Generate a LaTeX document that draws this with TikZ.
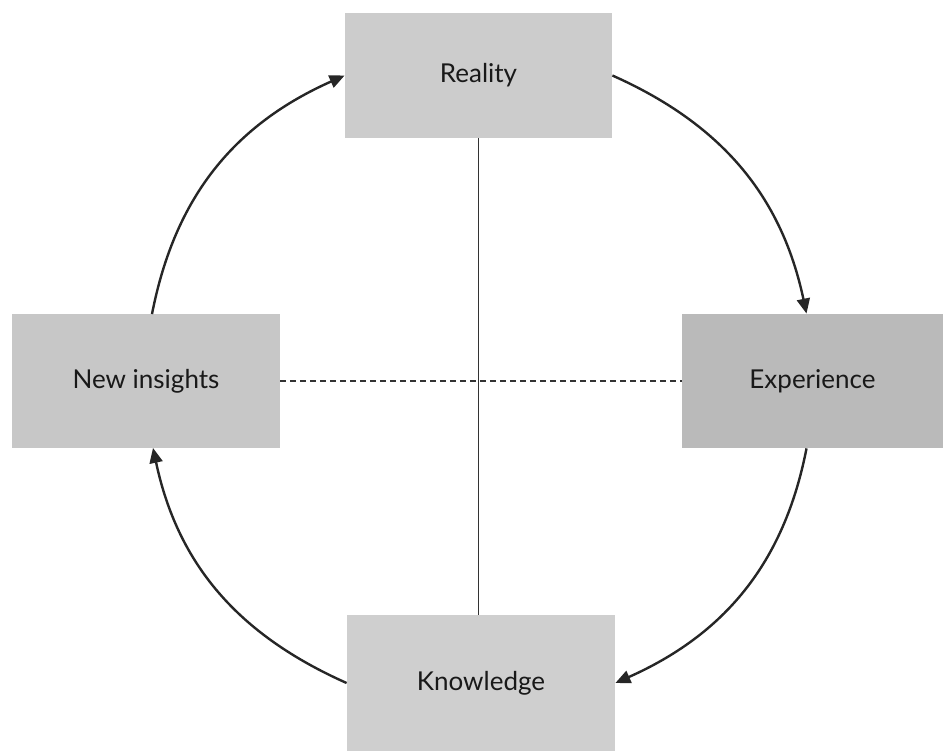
\documentclass[tikz,border=0pt]{standalone}
\usepackage{fontspec}
\setmainfont{Lato}
\usetikzlibrary{arrows.meta}
\begin{document}
\begin{tikzpicture}[x=0.5pt, y=0.5pt,
        >={Triangle[length=7.5pt,width=6.5pt]},
        box/.style={fill=black!22, inner sep=0pt, text=black!90,
            font=\fontsize{13pt}{15pt}\selectfont},
        cycle/.style={->, line width=1.2pt, black!85}]
    \useasboundingbox (0,0) rectangle (943,751);
    \node[box, fill=black!20, minimum width=133.5pt, minimum height=62.5pt] (real) at (478.5,675.5) {Reality};
    \node[box, fill=black!27, minimum width=130.5pt, minimum height=67pt] (exp) at (812.5,370) {Experience};
    \node[box, minimum width=134pt, minimum height=66.5pt] (ins) at (146,370) {New insights};
    \node[box, fill=black!19, minimum width=134pt, minimum height=68pt] (know) at (481,68) {Knowledge};
    % axes through the middle
    \draw[line width=0.6pt, black!80] (real.south) -- (real.south |- know.north);
    \draw[line width=0.6pt, black!80, dash pattern=on 3pt off 2pt] (ins.east) -- (exp.west);
    % the cycle
    \draw[cycle] (real.east) to[out=-24, in=102] ([xshift=-3pt]exp.north);
    \draw[cycle] ([xshift=-3pt]exp.south) to[out=-101, in=24] (know.east);
    \draw[cycle] (know.west) to[out=156, in=-78] ([xshift=3.5pt]ins.south);
    \draw[cycle] ([xshift=3pt]ins.north) to[out=79, in=-156] (real.west);
\end{tikzpicture}
\end{document}
